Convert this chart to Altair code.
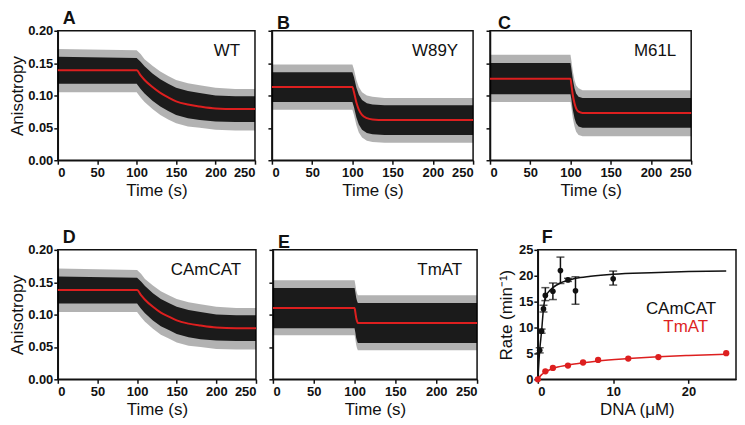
import altair as alt
import pandas as pd

FONT = "Liberation Sans"
RED = "#dd1f1f"
INK = "#111111"

# ---------------- Panel A: WT ----------------
a_t = [0, 100, 105, 110, 120, 130, 140, 150, 165, 180, 200, 225, 250]
a_fit = [0.139, 0.139, 0.131, 0.124, 0.113, 0.104, 0.097, 0.091, 0.086, 0.083, 0.080, 0.079, 0.079]
a_in_lo = [0.118, 0.118, 0.110, 0.103, 0.092, 0.083, 0.076, 0.070, 0.065, 0.062, 0.060, 0.059, 0.059]
a_in_hi = [0.160, 0.158, 0.152, 0.145, 0.134, 0.125, 0.118, 0.112, 0.107, 0.104, 0.100, 0.099, 0.099]
a_out_lo = [0.105, 0.105, 0.097, 0.090, 0.079, 0.070, 0.063, 0.057, 0.052, 0.050, 0.047, 0.046, 0.046]
a_out_hi = [0.172, 0.170, 0.164, 0.156, 0.146, 0.137, 0.130, 0.124, 0.119, 0.116, 0.112, 0.110, 0.110]

# ---------------- Panel B: W89Y ----------------
b_t = [0, 100, 102, 105, 108, 112, 118, 125, 140, 250]
b_fit = [0.113, 0.113, 0.105, 0.089, 0.078, 0.070, 0.065, 0.063, 0.062, 0.062]
b_in_lo = [0.090, 0.090, 0.082, 0.066, 0.055, 0.047, 0.042, 0.040, 0.039, 0.039]
b_in_hi = [0.136, 0.136, 0.128, 0.112, 0.101, 0.093, 0.088, 0.086, 0.085, 0.085]
b_out_lo = [0.078, 0.078, 0.070, 0.054, 0.043, 0.035, 0.030, 0.028, 0.027, 0.027]
b_out_hi = [0.148, 0.148, 0.140, 0.124, 0.113, 0.105, 0.100, 0.098, 0.096, 0.096]

# ---------------- Panel C: M61L ----------------
c_t = [0, 100, 101, 103, 105, 107, 110, 115, 250]
c_fit = [0.126, 0.126, 0.118, 0.100, 0.088, 0.080, 0.075, 0.073, 0.073]
c_in_lo = [0.102, 0.102, 0.095, 0.077, 0.065, 0.057, 0.052, 0.050, 0.050]
c_in_hi = [0.150, 0.150, 0.142, 0.124, 0.111, 0.103, 0.098, 0.096, 0.096]
c_out_lo = [0.090, 0.090, 0.082, 0.064, 0.052, 0.044, 0.039, 0.037, 0.037]
c_out_hi = [0.163, 0.163, 0.155, 0.137, 0.124, 0.116, 0.111, 0.108, 0.108]

# ---------------- Panel D: CAmCAT ----------------
d_t = [0, 100, 105, 110, 120, 130, 140, 150, 165, 180, 200, 225, 250]
d_fit = [0.138, 0.138, 0.130, 0.123, 0.112, 0.103, 0.097, 0.091, 0.086, 0.083, 0.080, 0.079, 0.079]
d_in_lo = [0.117, 0.117, 0.109, 0.102, 0.091, 0.082, 0.076, 0.070, 0.065, 0.062, 0.060, 0.059, 0.059]
d_in_hi = [0.159, 0.157, 0.151, 0.144, 0.133, 0.124, 0.118, 0.112, 0.107, 0.104, 0.100, 0.099, 0.099]
d_out_lo = [0.104, 0.104, 0.096, 0.089, 0.078, 0.069, 0.063, 0.057, 0.052, 0.050, 0.047, 0.046, 0.046]
d_out_hi = [0.171, 0.169, 0.163, 0.155, 0.145, 0.136, 0.130, 0.124, 0.119, 0.116, 0.112, 0.110, 0.110]

# ---------------- Panel E: TmAT ----------------
e_t = [0, 100, 101, 102, 103, 104, 250]
e_fit = [0.110, 0.110, 0.103, 0.095, 0.090, 0.087, 0.087]
e_in_lo = [0.079, 0.079, 0.072, 0.064, 0.059, 0.056, 0.056]
e_in_hi = [0.141, 0.141, 0.134, 0.126, 0.121, 0.118, 0.118]
e_out_lo = [0.068, 0.068, 0.061, 0.053, 0.048, 0.045, 0.045]
e_out_hi = [0.153, 0.153, 0.146, 0.138, 0.133, 0.130, 0.130]

# ---------------- Panel F: rate vs DNA ----------------
cam_x = [0.25, 0.5, 0.75, 1, 2, 3, 4, 5, 10]
cam_y = [5.6, 9.3, 13.6, 16.2, 17.0, 21.0, 19.2, 17.1, 19.4]
cam_lo = [5.1, 8.9, 13.0, 15.2, 15.4, 18.5, 18.9, 14.5, 18.2]
cam_hi = [6.1, 9.7, 14.3, 17.7, 18.6, 23.6, 19.5, 19.8, 20.9]
cam_fit_x = [0, 0.25, 0.5, 0.75, 1, 1.5, 2, 3, 4, 5, 7, 10, 15, 20, 25]
cam_fit_y = [0, 5.6, 9.3, 13.6, 15.8, 17.0, 17.7, 18.6, 19.1, 19.5, 19.9, 20.3, 20.6, 20.8, 20.9]
tm_x = [0, 1, 2, 4, 6, 8, 12, 16, 25]
tm_y = [0, 1.55, 2.2, 2.65, 3.25, 3.75, 4.0, 4.3, 5.05]
tm_fit_x = [0, 0.5, 1, 2, 4, 6, 8, 12, 16, 20, 25]
tm_fit_y = [0, 0.9, 1.4, 2.1, 2.75, 3.2, 3.55, 4.0, 4.35, 4.6, 4.85]

time_ticks = [0, 50, 100, 150, 200, 250]
aniso_ticks = [0, 0.05, 0.10, 0.15, 0.20]
dna_ticks = [0, 10, 20]
rate_ticks = [0, 5, 10, 15, 20, 25]

H = 130


def letter_title(letter, dx):
    return alt.TitleParams(text=letter, anchor="start", frame="group", fontSize=18,
                           fontWeight="bold", font=FONT, color=INK, dx=dx, offset=-3)


def time_panel(letter, name, t, fit, in_lo, in_hi, out_lo, out_hi, width, show_y, dx):
    band = pd.DataFrame({"t": t, "fit": fit, "in_lo": in_lo, "in_hi": in_hi,
                         "out_lo": out_lo, "out_hi": out_hi})
    xs = alt.Scale(domain=[0, 250], nice=False)
    ys = alt.Scale(domain=[0, 0.20], nice=False)
    xax = alt.Axis(values=time_ticks, title="Time (s)", titlePadding=3, labelOverlap=False,
                   tickCount=6)
    if show_y:
        yax = alt.Axis(values=aniso_ticks, format=".2f", title="Anisotropy", tickCount=5,
                       titlePadding=1, labelPadding=1, labelOverlap=False)
    else:
        yax = alt.Axis(values=aniso_ticks, labels=False, title="", tickCount=5)
    X = alt.X("t:Q", scale=xs, axis=xax)
    base = alt.Chart(band)
    outer = base.mark_area(color="#000000", opacity=0.3).encode(
        x=X, y=alt.Y("out_lo:Q", scale=ys, axis=yax), y2="out_hi:Q"
    )
    inner = base.mark_area(color="#000000", opacity=0.85).encode(
        x=X, y=alt.Y("in_lo:Q", scale=ys, axis=yax), y2="in_hi:Q"
    )
    line = base.mark_line(color=RED, strokeWidth=2, interpolate="monotone").encode(
        x=X, y=alt.Y("fit:Q", scale=ys, axis=yax)
    )
    label = alt.Chart(pd.DataFrame({"name": [name]})).mark_text(
        align="right", baseline="alphabetic", fontSize=17, font=FONT, color=INK
    ).encode(text="name:N", x=alt.value(width - 15), y=alt.value(25))
    return alt.layer(outer, inner, line, label).properties(
        width=width, height=H, title=letter_title(letter, dx)
    )


A = time_panel("A", "WT", a_t, a_fit, a_in_lo, a_in_hi, a_out_lo, a_out_hi, 198, True, 5)
B = time_panel("B", "W89Y", b_t, b_fit, b_in_lo, b_in_hi, b_out_lo, b_out_hi, 202, False, 5)
C = time_panel("C", "M61L", c_t, c_fit, c_in_lo, c_in_hi, c_out_lo, c_out_hi, 202, False, 8)
D = time_panel("D", "CAmCAT", d_t, d_fit, d_in_lo, d_in_hi, d_out_lo, d_out_hi, 199, True, 5)
E = time_panel("E", "TmAT", e_t, e_fit, e_in_lo, e_in_hi, e_out_lo, e_out_hi, 205, False, 5)

# ---- Panel F ----
fx = alt.Scale(domain=[0, 26.3], nice=False)
fy = alt.Scale(domain=[0, 25], nice=False)
fxax = alt.Axis(values=dna_ticks, title="DNA (\u03bcM)", titlePadding=3, labelOverlap=False, tickCount=3)
fyax = alt.Axis(values=rate_ticks, title="Rate (min\u207b\u00b9)", titlePadding=3, labelPadding=1,
                labelOverlap=False, tickCount=6)
FX = alt.X("x:Q", scale=fx, axis=fxax)
cam_df = pd.DataFrame({"x": cam_x, "y": cam_y, "lo": cam_lo, "hi": cam_hi})
cam_fit_df = pd.DataFrame({"x": cam_fit_x, "y": cam_fit_y})
tm_df = pd.DataFrame({"x": tm_x, "y": tm_y})
tm_fit_df = pd.DataFrame({"x": tm_fit_x, "y": tm_fit_y})

f_cam_line = alt.Chart(cam_fit_df).mark_line(color=INK, strokeWidth=1.5, interpolate="monotone").encode(
    x=FX, y=alt.Y("y:Q", scale=fy, axis=fyax)
)
f_tm_line = alt.Chart(tm_fit_df).mark_line(color=RED, strokeWidth=1.5, interpolate="monotone").encode(
    x=FX, y=alt.Y("y:Q", scale=fy, axis=fyax)
)
f_err = alt.Chart(cam_df).mark_rule(color=INK, strokeWidth=1.5).encode(
    x=FX, y=alt.Y("lo:Q", scale=fy, axis=fyax), y2="hi:Q"
)
f_cap_lo = alt.Chart(cam_df).mark_tick(color=INK, orient="horizontal", size=8, thickness=1.5).encode(
    x=FX, y=alt.Y("lo:Q", scale=fy, axis=fyax)
)
f_cap_hi = alt.Chart(cam_df).mark_tick(color=INK, orient="horizontal", size=8, thickness=1.5).encode(
    x=FX, y=alt.Y("hi:Q", scale=fy, axis=fyax)
)
f_cam_pts = alt.Chart(cam_df).mark_circle(color=INK, size=32, opacity=1).encode(
    x=FX, y=alt.Y("y:Q", scale=fy, axis=fyax)
)
f_tm_pts = alt.Chart(tm_df).mark_circle(color=RED, size=40, opacity=1).encode(
    x=FX, y=alt.Y("y:Q", scale=fy, axis=fyax)
)
f_leg1 = alt.Chart(pd.DataFrame({"name": ["CAmCAT"]})).mark_text(
    align="right", baseline="alphabetic", fontSize=17, font=FONT, color=INK
).encode(text="name:N", x=alt.value(179), y=alt.value(64))
f_leg2 = alt.Chart(pd.DataFrame({"name": ["TmAT"]})).mark_text(
    align="right", baseline="alphabetic", fontSize=17, font=FONT, color=RED
).encode(text="name:N", x=alt.value(171), y=alt.value(82))

F = alt.layer(f_cam_line, f_tm_line, f_err, f_cap_lo, f_cap_hi, f_cam_pts, f_tm_pts, f_leg1, f_leg2).properties(
    width=199, height=H, title=letter_title("F", 4)
)

spacer = alt.Chart(pd.DataFrame({"a": [0]})).mark_point(opacity=0).encode(
    x=alt.value(0), y=alt.value(0)
).properties(width=27, height=H, view=alt.ViewBackground(stroke="transparent"))

row1 = alt.hconcat(A, B, C, spacing=17, bounds="flush")
row2 = alt.hconcat(D, E, spacer, F, spacing=17, bounds="flush")

chart = alt.vconcat(row1, row2, spacing=29).properties(
    padding={"top": 0, "left": -1, "right": 0, "bottom": 0}
).configure_view(
    stroke=INK, strokeWidth=1.5
).configure_axis(
    domainColor=INK, domainWidth=1.5, tickColor=INK, tickWidth=1.5, tickSize=4,
    labelFont=FONT, labelFontSize=13, labelFontWeight="bold", labelColor=INK, labelPadding=2,
    labelOverlap=False,
    titleFont=FONT, titleFontSize=17, titleFontWeight="normal", titleColor=INK, grid=False,
)

chart.save("out.html", embed_options={"renderer": "svg", "actions": False})
